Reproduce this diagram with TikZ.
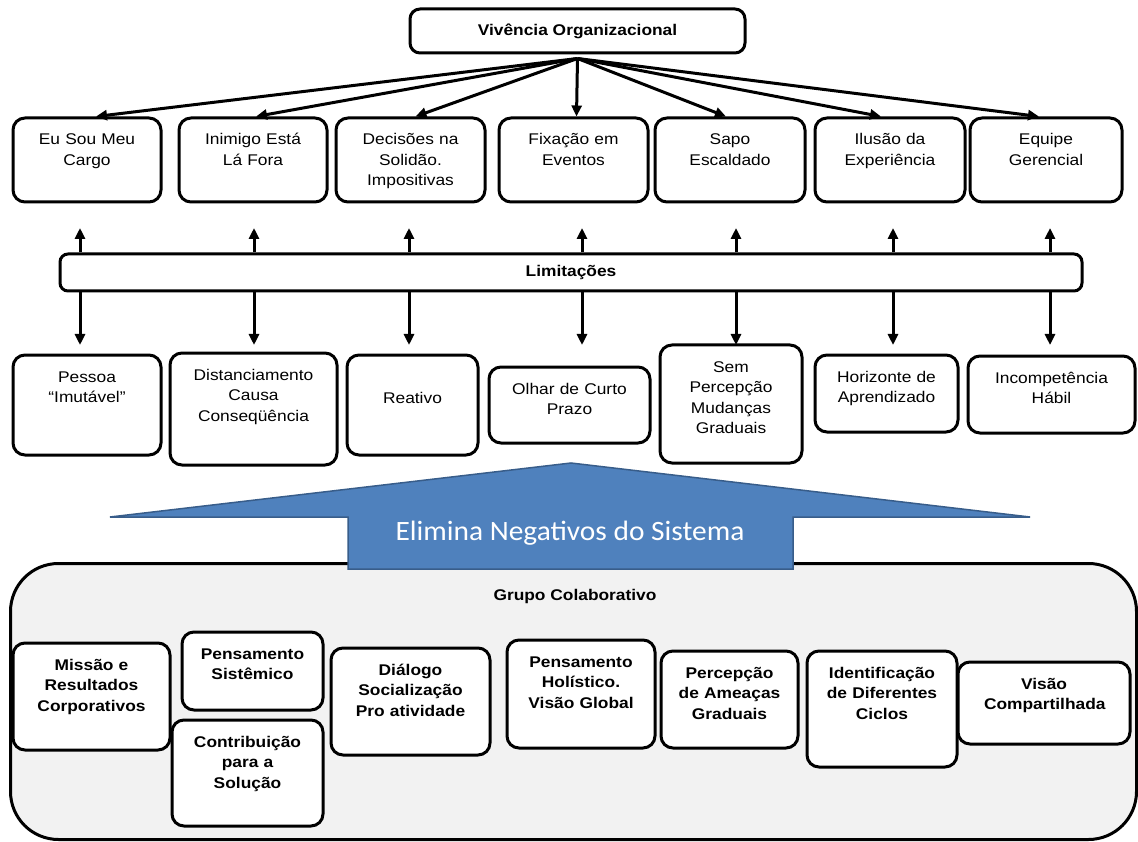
\documentclass[tikz,border=0pt]{standalone}
\usepackage{fontspec}
\setmainfont{Liberation Sans}[FakeStretch=1.12]
\newfontfamily\arrowfont{Carlito}[FakeStretch=1.05]
\usepackage{tikz}
\usetikzlibrary{arrows.meta}
\definecolor{arrowblue}{HTML}{4F81BD}
\definecolor{arrowedge}{HTML}{385D8A}
\definecolor{grupogray}{HTML}{F2F2F2}

\begin{document}
\begin{tikzpicture}[x=1pt,y=-1pt,
	every node/.style={font=\fontsize{15.5}{20.5}\selectfont},
	cbox/.style={draw,line width=3pt,rounded corners=12pt,fill=white,align=center,inner ysep=16pt,text height=11pt,text width=120pt},
	bbox/.style={cbox,font=\fontsize{15.5}{20.5}\selectfont\bfseries},
	arr/.style={line width=3pt,-{Triangle[length=11pt,width=10pt]}}]
	\useasboundingbox (0,0) rectangle (1138,842);
	
	\node[draw,line width=3pt,rounded corners=10pt,minimum width=335pt,minimum height=44pt,font=\fontsize{15.5}{20.5}\selectfont\bfseries] (vo) at (577.5,31) {Vivência Organizacional};
	
	\node[cbox,minimum width=148pt,text depth=41pt] (b1) at (87,160) {Eu Sou Meu\\Cargo};
	\node[cbox,minimum width=148pt,text depth=41pt] (b2) at (253,160) {Inimigo Está\\Lá Fora};
	\node[cbox,minimum width=149pt,text depth=41pt] (b3) at (410.5,160) {Decisões na\\Solidão.\\Impositivas};
	\node[cbox,minimum width=149pt,text depth=41pt] (b4) at (573.5,160) {Fixação em\\Eventos};
	\node[cbox,minimum width=150pt,text depth=41pt] (b5) at (730,160) {Sapo\\Escaldado};
	\node[cbox,minimum width=150pt,text depth=41pt] (b6) at (890,160) {Ilusão da\\Experiência};
	\node[cbox,minimum width=152pt,text depth=41pt] (b7) at (1046,160) {Equipe\\Gerencial};
	
	\foreach \b/\s in {b1/9,b2/3,b3/5,b4/3,b5/-4,b6/-9,b7/-7}
	{
		\draw[arr] ([yshift=-4pt]vo.south) -- ([xshift=\s pt]\b.north);
	}
	
	\node[draw,line width=3pt,rounded corners=8pt,fill=white,minimum width=1022pt,minimum height=37pt,font=\fontsize{15.5}{20.5}\selectfont\bfseries] (lim) at (571,272.5) {Limitações};
	
	\foreach \n/\x in {1/80,2/254,3/409,4/582,5/736,6/893,7/1050}
	{
		\coordinate (up\n) at (\x,228);
		\coordinate (dn\n) at (\x,345);
		\draw[arr] (lim.north -| up\n) -- (up\n);
		\draw[arr] (lim.south -| dn\n) -- (dn\n);
	}
	
	\node[cbox,minimum width=148pt,text depth=57pt] (p1) at (87,405) {Pessoa\\“Imutável”};
	\node[cbox,minimum width=167pt,text depth=69pt] (p2) at (253.5,409) {Distanciamento\\Causa\\Conseqüência};
	\node[cbox,minimum width=131pt,text height=32pt,text depth=36pt] (p3) at (412.5,405) {Reativo};
	\node[cbox,minimum width=161pt,text depth=33pt] (p4) at (569.5,405) {Olhar de Curto\\Prazo};
	\node[cbox,minimum width=142pt,text depth=75pt] (p5) at (731,404) {Sem\\Percepção\\Mudanças\\Graduais};
	\node[cbox,minimum width=143pt,text depth=34pt] (p6) at (886.5,393.5) {Horizonte de\\Aprendizado};
	\node[cbox,minimum width=167pt,text depth=34pt] (p7) at (1051.5,394.5) {Incompetência\\Hábil};
	
	\node[draw,line width=3pt,rounded corners=48pt,fill=grupogray,minimum width=1126pt,minimum height=276pt] (grp) at (573.5,701.5) {};
	\node[font=\fontsize{15.5}{20.5}\selectfont\bfseries] (grpt) at (575,596) {Grupo Colaborativo};
	
	\node[bbox,minimum width=157pt,text depth=64pt] (c1) at (91.5,696.5) {Missão e\\Resultados\\Corporativos};
	\node[bbox,minimum width=141pt,text depth=35pt] (c2) at (252.5,671) {Pensamento\\Sistêmico};
	\node[bbox,minimum width=151pt,text depth=63pt] (c3) at (247.5,773) {Contribuição\\para a\\Solução};
	\node[bbox,minimum width=159pt,text depth=64pt] (c4) at (410.5,701.5) {Diálogo\\Socialização\\Pro atividade};
	\node[bbox,minimum width=148pt,text depth=65pt] (c5) at (581,694) {Pensamento\\Holístico.\\Visão Global};
	\node[bbox,minimum width=137pt,text depth=54pt] (c6) at (729.5,699.5) {Percepção\\de Ameaças\\Graduais};
	\node[bbox,minimum width=150pt,text depth=73pt] (c7) at (882,709) {Identificação\\de Diferentes\\Ciclos};
	\node[bbox,minimum width=172pt,text depth=39pt] (c8) at (1044,703) {Visão\\Compartilhada};
	
	\draw[fill=arrowblue,draw=arrowedge,line width=1.5pt] (110,517) -- (571,463) -- (1030,517) -- (793,517) -- (793,569) -- (348,569) -- (348,517) -- cycle;
	\node[font=\arrowfont\fontsize{28}{30}\selectfont,text=white] (elim) at (570,533) {Elimina Negativos do Sistema};
	
\end{tikzpicture}
\end{document}
